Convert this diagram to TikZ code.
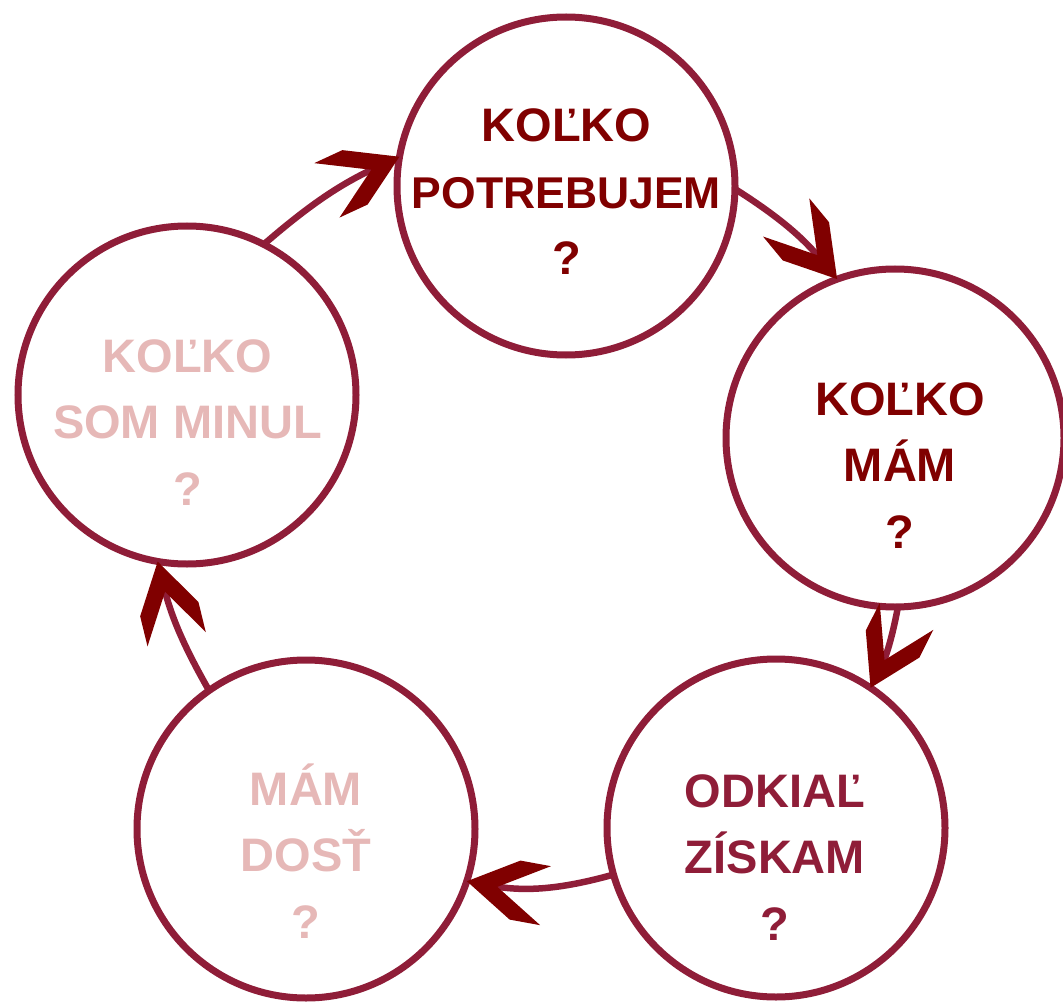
\documentclass[tikz,border=0pt]{standalone}
\usepackage{fontspec}
\setmainfont{Liberation Sans}
\usetikzlibrary{decorations.markings}
\definecolor{ringcol}{HTML}{8F1D38}
\definecolor{headred}{HTML}{800000}
\definecolor{darktxt}{HTML}{800000}
\definecolor{midtxt}{HTML}{8F1D38}
\definecolor{paletxt}{HTML}{E6B8B7}
\tikzset{
  ringnode/.style={circle, draw=ringcol, line width=7pt, minimum size=338pt, inner sep=0pt, outer sep=0pt},
  lbl/.style={anchor=base, inner sep=0pt, outer sep=0pt, font=\bfseries\fontsize{47}{66.5}\selectfont},
  conn/.style={draw=ringcol, line width=6.5pt, shorten >=25pt},
  chevtip/.style={postaction={decorate}, decoration={markings, mark=at position 0.999 with {\fill[headred] (0pt,0pt) -- (-49pt,30pt) -- (-80pt,30pt) -- (-31pt,0pt) -- (-80pt,-30pt) -- (-49pt,-30pt) -- cycle;}}},
}
\begin{document}
\begin{tikzpicture}[x=1pt,y=1pt]
\useasboundingbox (0,0) rectangle (1063,-1003);
\node[ringnode] (c1) at (566,-186) {};
\node[ringnode] (c2) at (895,-438) {};
\node[ringnode] (c3) at (776,-828) {};
\node[ringnode] (c4) at (306,-829) {};
\node[ringnode] (c5) at (187,-395) {};
\node[lbl, text=darktxt] (t1) at (566.5,-142) {\vtop{\halign{\hfil#\hfil\cr KOĽKO\cr {\fontsize{44.5}{66.5}\selectfont POTREBUJEM}\cr ?\cr}}};
\node[lbl, text=darktxt] (t2) at (900,-415) {\vtop{\halign{\hfil#\hfil\cr KOĽKO\cr MÁM\cr ?\cr}}};
\node[lbl, text=midtxt] (t3) at (775,-807) {\vtop{\halign{\hfil#\hfil\cr ODKIAĽ\cr ZÍSKAM\cr ?\cr}}};
\node[lbl, text=paletxt] (t4) at (306,-805) {\vtop{\halign{\hfil#\hfil\cr MÁM\cr DOSŤ\cr ?\cr}}};
\node[lbl, text=paletxt] (t5) at (187.5,-372) {\vtop{\halign{\hfil#\hfil\cr KOĽKO\cr SOM MINUL\cr ?\cr}}};
\draw[conn] (c5.63) to[bend left=8] (c1.170);
\path[chevtip] (c5.63) to[bend left=8] (c1.170);
\draw[conn] (c1.359) to[bend left=9] (c2.110);
\path[chevtip] (c1.359) to[bend left=9] (c2.110);
\draw[conn] (c2.271) to[bend left=8] (c3.56);
\path[chevtip] (c2.271) to[bend left=8] (c3.56);
\draw[conn] (c3.196.5) to[bend left=13] (c4.342);
\path[chevtip] (c3.196.5) to[bend left=13] (c4.342);
\draw[conn] (c4.125.6) to[bend left=8] (c5.260);
\path[chevtip] (c4.125.6) to[bend left=8] (c5.260);
\end{tikzpicture}
\end{document}
